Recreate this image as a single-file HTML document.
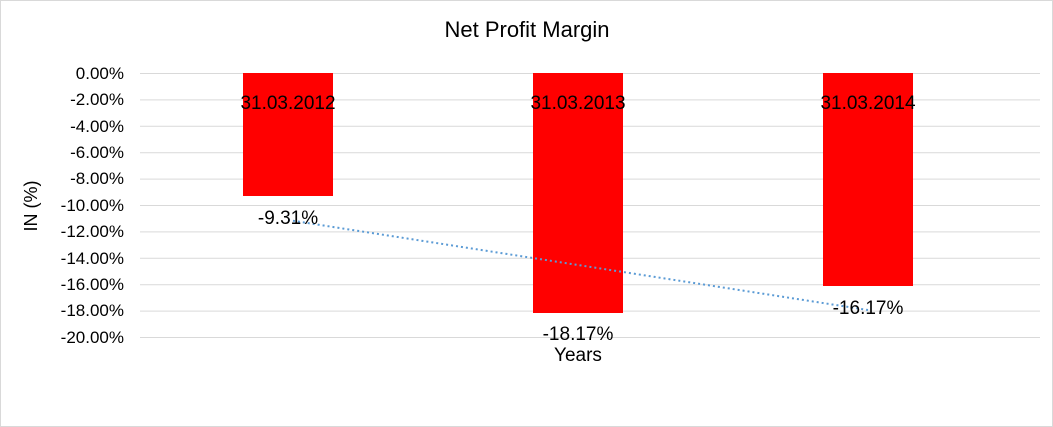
<!DOCTYPE html>
<html><head><meta charset="utf-8"><style>
body{margin:0;background:#fff;}
svg{display:block;font-family:"Liberation Sans",Arial,sans-serif;}
</style></head><body>
<svg width="1053" height="427" viewBox="0 0 1053 427">
<rect x="0.5" y="0.5" width="1052" height="426" fill="#fff" stroke="#d9d9d9"/>
<text x="527" y="37" font-size="22" text-anchor="middle" fill="#000">Net Profit Margin</text>
<g stroke="#d9d9d9" stroke-width="1">
<line x1="140" x2="1040" y1="73.5" y2="73.5"/>
<line x1="140" x2="1040" y1="99.9" y2="99.9"/>
<line x1="140" x2="1040" y1="126.3" y2="126.3"/>
<line x1="140" x2="1040" y1="152.7" y2="152.7"/>
<line x1="140" x2="1040" y1="179.1" y2="179.1"/>
<line x1="140" x2="1040" y1="205.5" y2="205.5"/>
<line x1="140" x2="1040" y1="231.9" y2="231.9"/>
<line x1="140" x2="1040" y1="258.3" y2="258.3"/>
<line x1="140" x2="1040" y1="284.7" y2="284.7"/>
<line x1="140" x2="1040" y1="311.1" y2="311.1"/>
<line x1="140" x2="1040" y1="337.5" y2="337.5"/>
</g>
<g font-size="17" text-anchor="end" fill="#000">
<text x="124" y="79">0.00%</text>
<text x="124" y="105">-2.00%</text>
<text x="124" y="132">-4.00%</text>
<text x="124" y="158">-6.00%</text>
<text x="124" y="184">-8.00%</text>
<text x="124" y="211">-10.00%</text>
<text x="124" y="237">-12.00%</text>
<text x="124" y="264">-14.00%</text>
<text x="124" y="290">-16.00%</text>
<text x="124" y="316">-18.00%</text>
<text x="124" y="343">-20.00%</text>
</g>
<text transform="translate(37,206) rotate(-90)" font-size="18" text-anchor="middle">IN (%)</text>
<rect x="243" y="73" width="90" height="123" fill="#ff0000"/>
<rect x="533" y="73" width="90" height="240" fill="#ff0000"/>
<rect x="823" y="73" width="90" height="213" fill="#ff0000"/>
<line x1="288" y1="220" x2="868" y2="310" stroke="#5b9bd5" stroke-width="2" stroke-dasharray="2,3"/>
<g font-size="19" text-anchor="middle" fill="#000">
<text x="288" y="109">31.03.2012</text>
<text x="578" y="109">31.03.2013</text>
<text x="868" y="109">31.03.2014</text>
<text x="288" y="224">-9.31%</text>
<text x="578" y="340">-18.17%</text>
<text x="868" y="314">-16.17%</text>
<text x="578" y="361">Years</text>
</g>
</svg>
</body></html>
